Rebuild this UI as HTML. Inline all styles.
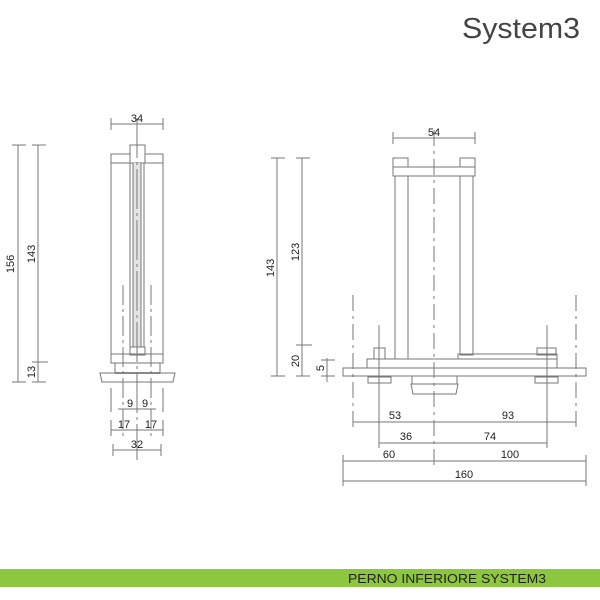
<!DOCTYPE html>
<html><head><style>
html,body{margin:0;padding:0;background:#fff;width:600px;height:600px;overflow:hidden}
svg text{font-family:"Liberation Sans",sans-serif;fill:#222}
</style></head><body>
<svg width="600" height="600" viewBox="0 0 600 600" xmlns="http://www.w3.org/2000/svg">
<text x="462" y="38" font-size="29" textLength="118" lengthAdjust="spacingAndGlyphs" style="font-weight:normal;fill:#444">System3</text>
<g stroke="#777" stroke-width="1" fill="none">
<!-- LEFT VIEW -->
<rect x="111" y="154" width="52" height="200" fill="#fff"/>
<rect x="130" y="145" width="15" height="18" fill="#fff"/>
<line x1="111" y1="163" x2="163" y2="163"/>
<rect x="133" y="163" width="8" height="184" fill="#e4e4e4" stroke="none"/>
<line x1="130" y1="163" x2="130" y2="347"/><line x1="133" y1="163" x2="133" y2="347"/>
<line x1="141" y1="163" x2="141" y2="347"/><line x1="144" y1="163" x2="144" y2="347"/>
<rect x="130" y="347" width="15" height="8"/>
<rect x="111" y="354" width="52" height="9"/>
<rect x="115" y="363" width="45" height="10"/>
<line x1="115" y1="373" x2="160" y2="373" stroke="#333" stroke-width="1.5"/>
<polygon points="100,373 175,373 173,382 102,382"/>
<line x1="137" y1="118" x2="137" y2="460" stroke-dasharray="40,4,3,4"/>
<line x1="123" y1="285" x2="123" y2="440" stroke-dasharray="20,4,3,4"/>
<line x1="151" y1="285" x2="151" y2="440" stroke-dasharray="20,4,3,4"/>
<!-- left dims -->
<line x1="111" y1="124" x2="163" y2="124"/><line x1="111" y1="118" x2="111" y2="130"/><line x1="163" y1="118" x2="163" y2="130"/>
<line x1="18" y1="145" x2="18" y2="382"/><line x1="12" y1="145" x2="26" y2="145"/><line x1="12" y1="382" x2="26" y2="382"/>
<line x1="38" y1="145" x2="38" y2="382"/><line x1="32" y1="145" x2="46" y2="145"/><line x1="32" y1="362" x2="48" y2="362"/><line x1="32" y1="382" x2="46" y2="382"/>
<line x1="118" y1="409" x2="156" y2="409"/>
<line x1="111" y1="430" x2="163" y2="430"/><line x1="111" y1="420" x2="111" y2="436"/><line x1="163" y1="420" x2="163" y2="436"/>
<line x1="113" y1="450" x2="161" y2="450"/><line x1="113" y1="444" x2="113" y2="456"/><line x1="161" y1="444" x2="161" y2="456"/>
<line x1="111" y1="388" x2="111" y2="412"/><line x1="163" y1="388" x2="163" y2="412"/>
<!-- RIGHT VIEW -->
<rect x="393" y="158" width="15" height="9"/><rect x="460" y="158" width="15" height="9"/>
<rect x="393" y="167" width="82" height="9" fill="#fff"/>
<rect x="395" y="176" width="13" height="183"/><rect x="460" y="176" width="13" height="179"/>
<rect x="458" y="354" width="99" height="5"/>
<rect x="374" y="348" width="11" height="11"/>
<rect x="537" y="348" width="19" height="7"/>
<rect x="367" y="359" width="190" height="9" fill="#fff"/>
<rect x="343" y="368" width="243" height="8" fill="#fff"/>
<rect x="368" y="377" width="23" height="6"/><rect x="535" y="377" width="23" height="6"/>
<rect x="412" y="376" width="45" height="8"/>
<polygon points="411,384 458,384 456,394 413,394"/>
<line x1="434" y1="130" x2="434" y2="470" stroke-dasharray="16,5,3,5"/>
<line x1="353" y1="295" x2="353" y2="428" stroke-dasharray="16,5,3,5"/>
<line x1="576" y1="295" x2="576" y2="428" stroke-dasharray="16,5,3,5"/>
<line x1="379" y1="325" x2="379" y2="448"/><line x1="547" y1="325" x2="547" y2="448"/>
<line x1="343" y1="455" x2="343" y2="486"/><line x1="586" y1="455" x2="586" y2="486"/>
<!-- right dims -->
<line x1="393" y1="138" x2="475" y2="138"/><line x1="393" y1="132" x2="393" y2="144"/><line x1="475" y1="132" x2="475" y2="144"/>
<line x1="277" y1="158" x2="277" y2="376"/><line x1="271" y1="158" x2="285" y2="158"/><line x1="271" y1="376" x2="285" y2="376"/>
<line x1="302" y1="158" x2="302" y2="376"/><line x1="296" y1="158" x2="310" y2="158"/><line x1="296" y1="345" x2="312" y2="345"/><line x1="296" y1="376" x2="310" y2="376"/>
<line x1="327" y1="358" x2="327" y2="382"/><line x1="321" y1="360" x2="335" y2="360"/><line x1="321" y1="376" x2="335" y2="376"/>
<line x1="353" y1="422" x2="576" y2="422"/>
<line x1="379" y1="443" x2="547" y2="443"/>
<line x1="343" y1="461" x2="586" y2="461"/>
<line x1="343" y1="481" x2="586" y2="481"/>
</g>
<g font-size="11" text-anchor="middle">
<text x="137" y="122">34</text>
<text x="130" y="407">9</text><text x="145" y="407">9</text>
<text x="124" y="428">17</text><text x="151" y="428">17</text>
<text x="137" y="448">32</text>
<text transform="translate(14,264) rotate(-90)">156</text>
<text transform="translate(35,254) rotate(-90)">143</text>
<text transform="translate(35,372) rotate(-90)">13</text>
<text x="434" y="136">54</text>
<text transform="translate(274,268) rotate(-90)">143</text>
<text transform="translate(299,252) rotate(-90)">123</text>
<text transform="translate(299,361) rotate(-90)">20</text>
<text transform="translate(324,368) rotate(-90)">5</text>
<text x="395" y="419">53</text><text x="508" y="419">93</text>
<text x="406" y="440">36</text><text x="490" y="440">74</text>
<text x="389" y="458">60</text><text x="510" y="458">100</text>
<text x="464" y="478">160</text>
</g>
<rect x="0" y="569" width="600" height="18" fill="#8dc63f"/>
<text x="348" y="583" font-size="13" fill="#1a1a1a" textLength="198" lengthAdjust="spacingAndGlyphs">PERNO INFERIORE SYSTEM3</text>
</svg>
</body></html>
